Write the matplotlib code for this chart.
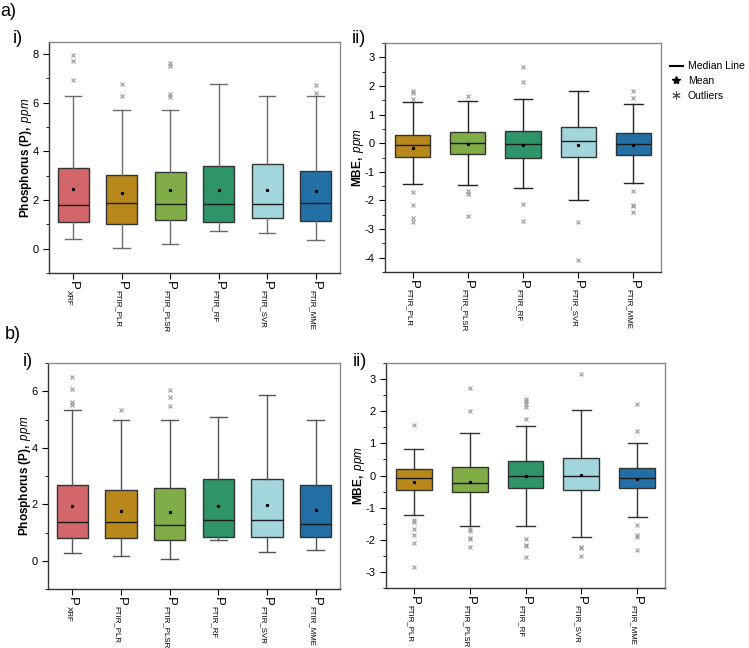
import matplotlib
matplotlib.use("Agg")
import matplotlib.pyplot as plt
from matplotlib.lines import Line2D
from matplotlib.ticker import MultipleLocator

plt.rcParams['font.family'] = ['Liberation Sans', 'DejaVu Sans']
plt.rcParams['mathtext.fontset'] = 'custom'
plt.rcParams['mathtext.rm'] = 'Liberation Sans'
plt.rcParams['mathtext.it'] = 'Liberation Sans:italic'
plt.rcParams['mathtext.bf'] = 'Liberation Sans:bold'
plt.rcParams['axes.unicode_minus'] = False

# Categories
labels_i = ['XRF', 'FTIR_PLR', 'FTIR_PLSR', 'FTIR_RF', 'FTIR_SVR', 'FTIR_MME']
labels_ii = ['FTIR_PLR', 'FTIR_PLSR', 'FTIR_RF', 'FTIR_SVR', 'FTIR_MME']
colors_i = ['#d3666a', '#b8891a', '#80ad47', '#2f9467', '#a3d6dc', '#2270a5']
colors_ii = colors_i[1:]

# a) i) concentrations: whisker low, Q1, median, Q3, whisker high, mean, outliers
a_i_lo = [0.41, 0.03, 0.21, 0.71, 0.63, 0.34]
a_i_q1 = [1.10, 1.01, 1.17, 1.10, 1.28, 1.12]
a_i_med = [1.78, 1.88, 1.85, 1.85, 1.85, 1.89]
a_i_q3 = [3.33, 3.03, 3.15, 3.42, 3.47, 3.21]
a_i_hi = [6.27, 5.69, 5.69, 6.79, 6.28, 6.28]
a_i_mean = [2.44, 2.29, 2.42, 2.43, 2.40, 2.37]
a_i_out = [[6.93, 7.71, 7.96], [6.27, 6.78], [6.22, 6.38, 7.51, 7.64], [], [], [6.41, 6.72]]

# a) ii) MBE
a_ii_lo = [-1.41, -1.47, -1.56, -1.98, -1.39]
a_ii_q1 = [-0.48, -0.37, -0.53, -0.48, -0.42]
a_ii_med = [-0.05, 0.02, -0.04, 0.06, -0.01]
a_ii_q3 = [0.30, 0.40, 0.42, 0.55, 0.34]
a_ii_hi = [1.44, 1.49, 1.54, 1.83, 1.37]
a_ii_mean = [-0.16, -0.02, -0.05, -0.06, -0.07]
a_ii_out = [[1.54, 1.74, 1.81, -1.70, -2.17, -2.61, -2.75],
            [1.65, -1.68, -1.77, -2.54],
            [2.15, 2.65, -2.11, -2.70],
            [-2.74, -4.09],
            [1.58, 1.81, -1.66, -2.15, -2.19, -2.39]]

# b) i) concentrations
b_i_lo = [0.28, 0.17, 0.05, 0.73, 0.31, 0.38]
b_i_q1 = [0.81, 0.79, 0.74, 0.83, 0.84, 0.83]
b_i_med = [1.37, 1.37, 1.25, 1.45, 1.46, 1.31]
b_i_q3 = [2.68, 2.52, 2.59, 2.91, 2.89, 2.69]
b_i_hi = [5.33, 4.97, 5.00, 5.10, 5.88, 4.97]
b_i_mean = [1.93, 1.76, 1.74, 1.95, 1.96, 1.80]
b_i_out = [[5.53, 5.62, 6.09, 6.51], [5.33], [5.48, 5.78, 6.06], [], [], []]

# b) ii) MBE
b_ii_lo = [-1.22, -1.57, -1.57, -1.91, -1.28]
b_ii_q1 = [-0.44, -0.51, -0.40, -0.46, -0.38]
b_ii_med = [-0.09, -0.22, 0.00, 0.00, -0.07]
b_ii_q3 = [0.19, 0.26, 0.44, 0.56, 0.24]
b_ii_hi = [0.81, 1.31, 1.53, 2.04, 1.02]
b_ii_mean = [-0.19, -0.20, 0.00, 0.02, -0.11]
b_ii_out = [[1.58, -1.40, -1.44, -1.66, -1.86, -2.09, -2.86],
            [2.02, 2.73, -1.68, -1.73, -1.95, -1.99, -2.24],
            [1.77, 2.13, 2.21, 2.32, 2.39, -1.98, -2.15, -2.19, -2.54],
            [3.15, -2.23, -2.27, -2.52],
            [1.40, 2.23, -1.54, -1.85, -1.92, -2.32]]


def panel(ax, labels, colors, lo, q1, med, q3, hi, mean, out, ylim, major, ylabel, wcolor):
    stats = []
    for i in range(len(labels)):
        stats.append(dict(whislo=lo[i], q1=q1[i], med=med[i], q3=q3[i],
                          whishi=hi[i], mean=mean[i], fliers=out[i]))
    bp = ax.bxp(stats, widths=0.64, capwidths=0.34, showmeans=True, patch_artist=True,
                boxprops=dict(edgecolor='#333333', linewidth=1.0),
                medianprops=dict(color='#1a1a1a', linewidth=1.0),
                whiskerprops=dict(color=wcolor, linewidth=1.0),
                capprops=dict(color=wcolor, linewidth=1.0),
                meanprops=dict(marker='s', markerfacecolor='black', markeredgecolor='black', markersize=1.3),
                flierprops=dict(marker='x', markeredgecolor='#9a9a9a', markersize=3, markeredgewidth=0.8))
    for patch, c in zip(bp['boxes'], colors):
        patch.set_facecolor(c)
    ax.set_xlim(0.5, len(labels) + 0.5)
    ax.set_ylim(*ylim)
    ax.yaxis.set_major_locator(MultipleLocator(major))
    ax.yaxis.set_minor_locator(MultipleLocator(major / 2))
    ticks = list(range(1, len(labels) + 1))
    ax.set_xticks(ticks)
    # "P" as tick label, small subscript written under it
    ax.set_xticklabels(['P'] * len(labels), rotation=270, fontsize=9.5, va='top', ha='center')
    for t, l in zip(ticks, labels):
        ax.annotate(l, xy=(t, 0), xycoords=('data', 'axes fraction'),
                    xytext=(-3.2, -12), textcoords='offset points',
                    rotation=270, fontsize=5.7, ha='center', va='top')
    ax.tick_params(axis='y', which='major', length=4, labelsize=8, direction='out')
    ax.tick_params(axis='y', which='minor', length=2, direction='out')
    ax.tick_params(axis='x', length=4, direction='out', pad=2)
    for s in ['top', 'right']:
        ax.spines[s].set_color('#8a8a8a')
    for s in ['left', 'bottom']:
        ax.spines[s].set_color('#333333')
    for s in ax.spines.values():
        s.set_linewidth(1.0)
    ax.set_ylabel(ylabel, fontsize=8.5, labelpad=-1)


fig = plt.figure(figsize=(7.49, 6.48), dpi=100)
ax1 = fig.add_axes([0.0654, 0.5787, 0.3885, 0.3565])
ax2 = fig.add_axes([0.514, 0.5802, 0.3685, 0.3534])
ax3 = fig.add_axes([0.0641, 0.0910, 0.3899, 0.3488])
ax4 = fig.add_axes([0.5154, 0.0926, 0.3725, 0.3472])

ylab_p = r'$\mathbf{Phosphorus\ (P),}\ \mathit{ppm}$'
ylab_m = r'$\mathbf{MBE,}\ \mathit{ppm}$'

panel(ax1, labels_i, colors_i, a_i_lo, a_i_q1, a_i_med, a_i_q3, a_i_hi, a_i_mean, a_i_out,
      (-1, 8.5), 2, ylab_p, '#6b6b6b')
panel(ax2, labels_ii, colors_ii, a_ii_lo, a_ii_q1, a_ii_med, a_ii_q3, a_ii_hi, a_ii_mean, a_ii_out,
      (-4.5, 3.5), 1, ylab_m, '#222222')
panel(ax3, labels_i, colors_i, b_i_lo, b_i_q1, b_i_med, b_i_q3, b_i_hi, b_i_mean, b_i_out,
      (-1, 7), 2, ylab_p, '#555555')
panel(ax4, labels_ii, colors_ii, b_ii_lo, b_ii_q1, b_ii_med, b_ii_q3, b_ii_hi, b_ii_mean, b_ii_out,
      (-3.5, 3.5), 1, ylab_m, '#333333')

# panel letters
fig.text(0.0, 0.995, 'a)', fontsize=13, va='top', ha='left')
fig.text(0.006, 0.497, 'b)', fontsize=13, va='top', ha='left')
fig.text(0.017, 0.953, 'i)', fontsize=13, va='top', ha='left')
fig.text(0.470, 0.953, 'ii)', fontsize=13, va='top', ha='left')
fig.text(0.030, 0.456, 'i)', fontsize=13, va='top', ha='left')
fig.text(0.471, 0.456, 'ii)', fontsize=13, va='top', ha='left')

# legend
handles = [Line2D([], [], color='black', linewidth=1.5),
           Line2D([], [], color='black', marker='*', linestyle='none', markersize=6),
           Line2D([], [], color='#555555', marker=(6, 2, 0), linestyle='none', markersize=6,
                  markeredgewidth=0.7)]
fig.legend(handles, ['Median Line', 'Mean', 'Outliers'], loc='upper left',
           bbox_to_anchor=(0.889, 0.912), frameon=False, fontsize=7.5,
           handlelength=1.2, handletextpad=0.5, labelspacing=0.45, borderaxespad=0)

fig.savefig('out.png', dpi=100)
